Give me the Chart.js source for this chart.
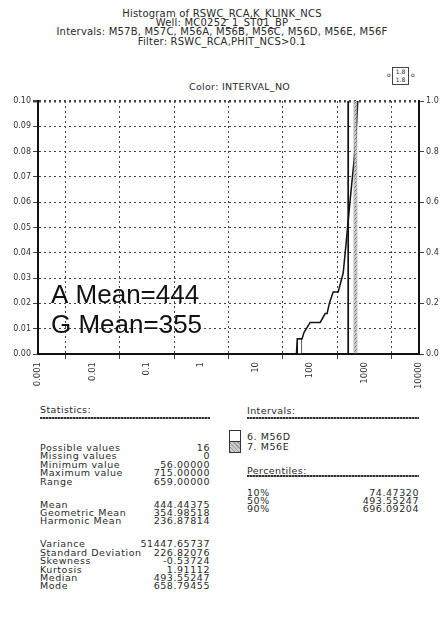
<!DOCTYPE html>
<html>
<head>
<meta charset="utf-8">
<script src="https://cdn.jsdelivr.net/npm/chart.js@4.4.1/dist/chart.umd.min.js"></script>
<style>
  body { margin: 0; width: 444px; height: 617px; background: #fff; position: relative; overflow: hidden;
         font-family: "DejaVu Sans", sans-serif; color: #2a2a2a; }
  .ab { position: absolute; white-space: nowrap; line-height: 1; }
  .title { left: 0; width: 444px; text-align: center; font-size: 10px; letter-spacing: 0.2px; }
  .row { position: absolute; white-space: nowrap; font-size: 9.5px; letter-spacing: 0.55px; line-height: 1; }
  .hdr { position: absolute; font-size: 9.5px; letter-spacing: 0.4px; line-height: 1; }
  .rule { position: absolute; height: 2px;
          background: repeating-linear-gradient(90deg, #333 0 2px, #888 2px 3px); }
  #wrap { position: absolute; left: 0; top: 90px; width: 444px; height: 310px; }
</style>
</head>
<body>
<div class="ab title" style="top:9px">Histogram of RSWC_RCA,K_KLINK_NCS</div>
<div class="ab title" style="top:18px">Well: MC0252_1_ST01_BP</div>
<div class="ab title" style="top:27px">Intervals: M57B, M57C, M56A, M56B, M56C, M56D, M56E, M56F</div>
<div class="ab title" style="top:37px">Filter: RSWC_RCA,PHIT_NCS&gt;0.1</div>
<div class="ab" style="left:189px;top:82px;font-size:9.5px;letter-spacing:0.3px">Color: INTERVAL_NO</div>
<div class="ab" style="left:387px;top:72px;font-size:6px">o</div>
<div class="ab" style="left:392px;top:67px;width:15px;height:16px;border:1px solid #444;font-size:6px;text-align:center;line-height:8px">1.8<br>1.8</div>
<div class="ab" style="left:411px;top:72px;font-size:6px">o</div>

<div id="wrap"><canvas id="chart"></canvas></div>

<div id="stats"></div>
<div id="side"></div>

<script>
// histogram bars (value, relative frequency)
const m56dLowX = [64];
const m56dLowY = [0.006];
const m56dTallX = [500];
const m56dTallY = [0.19];
const m56eTallX = [680];
const m56eTallY = [0.25];

// cumulative curve
const cumX = [56, 58, 71, 77, 100, 153, 189, 205, 225, 265, 327, 405, 459, 544, 672, 750];
const cumY = [0, 0.06, 0.06, 0.085, 0.125, 0.125, 0.16, 0.16, 0.2, 0.245, 0.245, 0.32, 0.44, 0.61, 0.81, 1.0];

const xTicks = [0.001, 0.01, 0.1, 1, 10, 100, 1000, 10000];
const xTickLabels = ["0.001", "0.01", "0.1", "1", "10", "100", "1000", "10000"];

const statLabels = ["Possible values", "Missing values", "Minimum value", "Maximum value", "Range", "",
  "Mean", "Geometric Mean", "Harmonic Mean", "",
  "Variance", "Standard Deviation", "Skewness", "Kurtosis", "Median", "Mode"];
const statValues = ["16", "0", "56.00000", "715.00000", "659.00000", "",
  "444.44375", "354.98518", "236.87814", "",
  "51447.65737", "226.82076", "-0.53724", "1.91112", "493.55247", "658.79455"];

const intervalNames = ["6. M56D", "7. M56E"];
const pctLabels = ["10%", "50%", "90%"];
const pctValues = ["74.47320", "493.55247", "696.09204"];

const pts = (xs, ys) => xs.map((x, i) => ({ x, y: ys[i] }));

function hatch() {
  const c = document.createElement("canvas");
  c.width = 4; c.height = 4;
  const g = c.getContext("2d");
  g.fillStyle = "#c8c8c8"; g.fillRect(0, 0, 4, 4);
  g.strokeStyle = "#777"; g.lineWidth = 1;
  g.beginPath(); g.moveTo(0, 4); g.lineTo(4, 0); g.stroke();
  return g.createPattern(c, "repeat");
}
const grayFill = hatch();

// text blocks below the plot
function buildText() {
  let h = '<div class="hdr" style="left:40px;top:405px">Statistics:</div>';
  h += '<div class="rule" style="left:40px;top:417px;width:170px"></div>';
  let y = 443;
  statLabels.forEach((lab, i) => {
    if (lab) {
      h += `<div class="row" style="left:40px;top:${y}px">${lab}</div>`;
      h += `<div class="row" style="left:40px;width:170px;text-align:right;top:${y}px">${statValues[i]}</div>`;
      y += 8.4;
    } else {
      y += 14.6;
    }
  });
  document.getElementById("stats").innerHTML = h;

  let s = '<div class="hdr" style="left:247px;top:406px">Intervals:</div>';
  s += '<div class="rule" style="left:247px;top:417px;width:172px"></div>';
  s += '<div class="ab" style="left:229px;top:430px;width:10px;height:10px;border:1px solid #333;background:#fff"></div>';
  s += '<div class="ab" style="left:229px;top:441px;width:10px;height:10px;border:1px solid #333;background:repeating-linear-gradient(45deg,#999 0 1px,#ccc 1px 3px)"></div>';
  intervalNames.forEach((n, i) => {
    s += `<div class="row" style="left:247px;top:${432 + i * 10}px">${n}</div>`;
  });
  s += '<div class="hdr" style="left:247px;top:466px">Percentiles:</div>';
  s += '<div class="rule" style="left:247px;top:475px;width:172px"></div>';
  pctLabels.forEach((p, i) => {
    const t = 488 + i * 7.8;
    s += `<div class="row" style="left:247px;top:${t}px">${p}</div>`;
    s += `<div class="row" style="left:247px;width:172px;text-align:right;top:${t}px">${pctValues[i]}</div>`;
  });
  document.getElementById("side").innerHTML = s;
}
buildText();

const meanText = {
  id: "meanText",
  afterDatasetsDraw(chart) {
    const { ctx, chartArea } = chart;
    ctx.save();
    ctx.fillStyle = "#111";
    ctx.font = '26px "Liberation Sans", Arial, sans-serif';
    ctx.textBaseline = "alphabetic";
    ctx.fillText("A Mean=444", chartArea.left + 13, chartArea.top + 202);
    ctx.fillText("G Mean=355", chartArea.left + 13, chartArea.top + 232);
    ctx.restore();
  }
};

new Chart(document.getElementById("chart"), {
  type: "bar",
  data: {
    datasets: [
      {
        label: "6. M56D", data: pts(m56dLowX, m56dLowY), grouped: false, maxBarThickness: 6,
        backgroundColor: "#fff", borderColor: "#111", borderWidth: 1, xAxisID: "x", yAxisID: "y"
      },
      {
        label: "6. M56D", data: pts(m56dTallX, m56dTallY), grouped: false, maxBarThickness: 2,
        backgroundColor: "#fff", borderColor: "#111", borderWidth: 1, xAxisID: "x", yAxisID: "y"
      },
      {
        label: "7. M56E", data: pts(m56eTallX, m56eTallY), grouped: false, maxBarThickness: 4,
        backgroundColor: grayFill, borderColor: "#888", borderWidth: 1, xAxisID: "x", yAxisID: "y"
      },
      {
        type: "line", label: "Cumulative", data: pts(cumX, cumY),
        borderColor: "#111", borderWidth: 1.5, pointRadius: 0, tension: 0,
        xAxisID: "x", yAxisID: "y2"
      }
    ]
  },
  options: {
    responsive: true,
    maintainAspectRatio: false,
    animation: false,
    layout: { padding: { top: 11, left: 0, right: 0, bottom: 0 } },
    plugins: { legend: { display: false }, tooltip: { enabled: false } },
    scales: {
      x: {
        type: "logarithmic",
        min: 0.001, max: 10000,
        afterBuildTicks: (s) => { s.ticks = xTicks.map(v => ({ value: v })); },
        afterFit: (s) => { s.height = 46; },
        ticks: {
          minRotation: 90, maxRotation: 90, autoSkip: false,
          color: "#333", font: { size: 8.5, family: "DejaVu Sans" }, padding: 3,
          callback: (v) => xTickLabels[xTicks.indexOf(v)] ?? ""
        },
        grid: { color: "#444", lineWidth: 1, tickLength: 5, drawTicks: true },
        border: { display: true, color: "#111", width: 2, dash: [2, 3] }
      },
      y: {
        position: "left",
        min: 0, max: 0.1,
        afterFit: (s) => { s.width = 38; },
        ticks: {
          stepSize: 0.01, color: "#333", font: { size: 8, family: "DejaVu Sans" }, padding: 2,
          callback: (v) => v.toFixed(2)
        },
        grid: {
          color: "#444",
          lineWidth: (c) => (c.tick && Math.abs(c.tick.value - 0.1) < 1e-9 ? 2.5 : 1),
          tickLength: 5
        },
        border: { display: true, color: "#111", width: 2, dash: [2, 3] }
      },
      y2: {
        position: "right",
        min: 0, max: 1,
        afterFit: (s) => { s.width = 25; },
        ticks: {
          stepSize: 0.2, color: "#333", font: { size: 8, family: "DejaVu Sans" }, padding: 2,
          callback: (v) => v.toFixed(1)
        },
        grid: { drawOnChartArea: false, color: "#444", tickLength: 5 },
        border: { display: true, color: "#111", width: 2 }
      }
    }
  },
  plugins: [meanText]
});
</script>
</body>
</html>
